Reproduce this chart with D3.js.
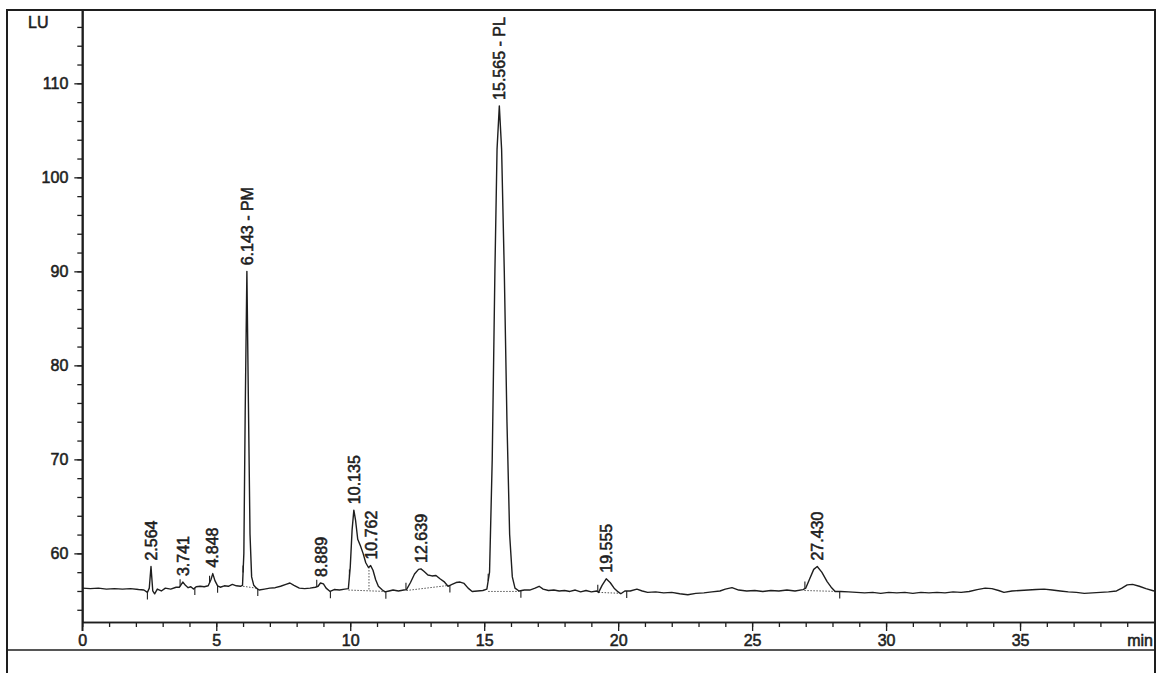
<!DOCTYPE html>
<html><head><meta charset="utf-8">
<script src="https://cdn.jsdelivr.net/npm/d3@7"></script>
<style>
body{margin:0;background:#fff}
svg{display:block}
text{font-family:"Liberation Sans",Arial,sans-serif;fill:#1e1e1e;stroke:#1e1e1e;stroke-width:0.55px}
</style>
</head><body>
<svg id="c" width="1163" height="673"></svg>
<script>
// ---- data ----
const traceTime = [0.0,0.3,0.6,0.9,1.2,1.5,1.8,2.1,2.3,2.43,2.5,2.564,2.63,2.7,2.8,2.95,3.1,3.3,3.5,3.62,3.66,3.75,3.85,3.95,4.05,4.15,4.25,4.4,4.55,4.7,4.8,4.87,4.95,5.05,5.15,5.3,5.45,5.6,5.75,5.9,5.98,6.03,6.08,6.143,6.2,6.26,6.32,6.4,6.5,6.6,6.8,7.0,7.2,7.4,7.6,7.75,7.9,8.1,8.3,8.5,8.7,8.8,8.889,9.0,9.1,9.25,9.4,9.6,9.8,9.93,10.0,10.07,10.135,10.2,10.28,10.38,10.48,10.58,10.68,10.762,10.85,10.95,11.05,11.2,11.3,11.45,11.6,11.8,12.0,12.1,12.25,12.4,12.55,12.639,12.75,12.9,13.05,13.2,13.35,13.5,13.65,13.8,13.95,14.1,14.25,14.4,14.55,14.75,14.95,15.1,15.2,15.3,15.4,15.48,15.565,15.65,15.75,15.85,15.95,16.05,16.15,16.3,16.5,16.7,16.9,17.05,17.2,17.4,17.6,17.8,18.0,18.2,18.4,18.6,18.8,19.0,19.2,19.27,19.4,19.555,19.7,19.85,20.0,20.1,20.25,20.45,20.7,20.9,21.1,21.4,21.7,22.0,22.3,22.6,22.9,23.2,23.5,23.8,24.0,24.25,24.5,24.8,25.1,25.4,25.7,26.0,26.3,26.6,26.9,27.0,27.15,27.3,27.43,27.6,27.8,27.95,28.1,28.3,28.6,28.9,29.2,29.5,29.8,30.1,30.4,30.7,31.0,31.3,31.6,31.9,32.2,32.5,32.8,33.1,33.4,33.7,33.95,34.2,34.4,34.7,35.0,35.3,35.6,35.9,36.2,36.5,36.8,37.1,37.4,37.7,38.0,38.3,38.6,38.8,39.0,39.2,39.45,39.7,40.0];
const traceLU = [56.3,56.25,56.3,56.2,56.25,56.2,56.25,56.15,56.1,55.85,56.3,58.6,56.0,55.7,56.2,56.0,56.3,56.2,56.4,56.4,56.55,56.95,56.6,56.35,56.45,56.2,56.45,56.5,56.45,56.55,57.2,57.85,57.1,56.55,56.4,56.55,56.5,56.7,56.55,56.5,56.6,60,75,90.0,76,62,57.5,56.6,56.3,56.1,56.2,56.3,56.35,56.5,56.7,56.85,56.6,56.3,56.25,56.3,56.4,56.5,56.85,56.75,56.3,55.95,56.15,56.1,56.2,56.25,58.5,62.5,64.6,63.5,61.5,60.8,60.0,59.0,58.5,58.7,58.2,57.2,56.5,56.1,55.9,56.0,56.1,56.0,56.1,56.15,56.9,57.8,58.3,58.35,58.1,57.7,57.6,57.65,57.3,57.0,56.5,56.7,56.9,56.95,56.8,56.3,55.95,56.0,56.05,56.2,58,70,90,103,107.6,103,90,74,62,57.5,56.3,56.0,56.1,56.1,56.3,56.5,56.2,56.05,56.1,56.0,56.05,55.95,56.1,55.9,56.05,55.9,56.0,55.85,56.6,57.3,56.9,56.3,55.9,55.7,56.0,56.0,56.2,56.0,55.85,55.9,55.8,55.85,55.7,55.6,55.75,55.8,55.9,56.0,56.2,56.35,56.1,56.0,56.05,55.95,56.05,56.0,56.1,56.0,56.15,56.3,57.3,58.3,58.6,58.0,57.0,56.4,55.95,55.95,55.9,55.85,55.8,55.85,55.75,55.85,55.8,55.85,55.75,55.85,55.8,55.85,55.8,55.9,55.85,55.95,56.15,56.3,56.25,56.05,55.85,56.0,56.05,56.1,56.15,56.2,56.1,56.0,55.9,55.85,55.75,55.8,55.85,55.9,56.0,56.3,56.65,56.7,56.5,56.25,56.0];

const peakTimes   = [2.564,3.741,4.848,6.143,8.889,10.135,10.762,12.639,15.565,19.555,27.430];
const peakHeights = [58.6,56.95,57.85,90.0,56.85,64.6,58.7,58.35,107.6,57.3,58.6];
const peakLabels  = ["2.564","3.741","4.848","6.143 - PM","8.889","10.135","10.762","12.639","15.565 - PL","19.555","27.430"];

// integration baselines: start time, start LU, end time, end LU
const baseStartT = [6.0,9.93,12.1,15.15,19.27,26.95];
const baseStartV = [56.5,56.1,56.05,55.95,55.85,56.05];
const baseEndT   = [6.5,11.3,13.7,16.3,20.1,28.2];
const baseEndV   = [56.3,55.95,56.6,55.95,55.75,55.95];
const dropLineT  = [10.7];

const startMarks = [3.65,4.75,6.0,8.75,9.97,12.08,15.15,19.24,26.97];
const endMarks   = [2.43,4.2,5.05,6.55,9.26,11.33,13.72,16.37,20.32,28.27];

const xMajor = [0,5,10,15,20,25,30,35];
const yMajor = [60,70,80,90,100,110];

// ---- drawing ----
const svg = d3.select("#c");
const x = d3.scaleLinear().domain([0,40]).range([82.3,1154]);
const y = d3.scaleLinear().domain([52.7,117.8]).range([622,10]);
const ink = "#1e1e1e";

// frame
svg.append("path").attr("d","M7,673V10H1155V673").attr("fill","none").attr("stroke",ink).attr("stroke-width",2);
svg.append("line").attr("x1",7).attr("x2",1155).attr("y1",650).attr("y2",650).attr("stroke",ink).attr("stroke-width",1.6);

// y axis
const gy = svg.append("g").attr("transform","translate(82.3,0)");
gy.call(d3.axisLeft(y).tickValues(d3.range(54,118,2)).tickSize(5).tickFormat("").tickSizeOuter(0));
const gy2 = svg.append("g").attr("transform","translate(82.3,0)");
gy2.call(d3.axisLeft(y).tickValues(yMajor).tickSize(8).tickPadding(6).tickSizeOuter(0));
[gy,gy2].forEach(g=>{g.selectAll("line").attr("stroke",ink).attr("stroke-width",1.3);g.select(".domain").attr("stroke",ink).attr("stroke-width",1.6);});
gy2.selectAll("text").attr("font-size",16).attr("font-family","Liberation Sans, Arial, sans-serif").attr("fill",ink);
svg.append("line").attr("x1",82.3).attr("x2",82.3).attr("y1",10).attr("y2",631).attr("stroke",ink).attr("stroke-width",1.6);

// x axis
const gx = svg.append("g").attr("transform","translate(0,622)");
gx.call(d3.axisBottom(x).tickValues(d3.range(0,40,1)).tickSize(5).tickFormat("").tickSizeOuter(0));
const gx2 = svg.append("g").attr("transform","translate(0,622)");
gx2.call(d3.axisBottom(x).tickValues(xMajor).tickSize(9).tickPadding(4).tickSizeOuter(0));
[gx,gx2].forEach(g=>{g.selectAll("line").attr("stroke",ink).attr("stroke-width",1.3);g.select(".domain").attr("stroke",ink).attr("stroke-width",1.6);});
gx2.selectAll("text").attr("font-size",16).attr("font-family","Liberation Sans, Arial, sans-serif").attr("fill",ink);

svg.append("text").attr("x",1153).attr("y",646).attr("text-anchor","end").attr("font-size",16).text("min");
svg.append("text").attr("x",28).attr("y",28).attr("font-size",16).text("LU");

// interpolation helper from the trace data
const bis = d3.bisector(d=>d).left;
function valueAt(t){
  const i = Math.max(1, Math.min(traceTime.length-1, bis(traceTime,t)));
  const t0=traceTime[i-1], t1=traceTime[i];
  return traceLU[i-1] + (traceLU[i]-traceLU[i-1])*(t-t0)/(t1-t0);
}

// baselines (dotted)
baseStartT.forEach((t,i)=>{
  svg.append("line").attr("x1",x(t)).attr("y1",y(baseStartV[i])).attr("x2",x(baseEndT[i])).attr("y2",y(baseEndV[i]))
    .attr("stroke","#555").attr("stroke-width",1).attr("stroke-dasharray","1.5,1.5");
});
dropLineT.forEach(t=>{
  svg.append("line").attr("x1",x(t)).attr("x2",x(t)).attr("y1",y(valueAt(t))).attr("y2",y(56.0))
    .attr("stroke","#555").attr("stroke-width",1).attr("stroke-dasharray","1.5,1.5");
});

// trace
const pts = traceTime.map((t,i)=>[t,traceLU[i]]);
svg.append("path").datum(pts)
  .attr("d", d3.line().x(d=>x(d[0])).y(d=>y(d[1])))
  .attr("fill","none").attr("stroke",ink).attr("stroke-width",1.4).attr("stroke-linejoin","round");

// peak start / end marks
startMarks.forEach(t=>{
  const yy=y(valueAt(t));
  svg.append("line").attr("x1",x(t)).attr("x2",x(t)).attr("y1",yy).attr("y2",yy-7).attr("stroke",ink).attr("stroke-width",1.1);
});
endMarks.forEach(t=>{
  const yy=y(valueAt(t));
  svg.append("line").attr("x1",x(t)).attr("x2",x(t)).attr("y1",yy).attr("y2",yy+7).attr("stroke",ink).attr("stroke-width",1.1);
});

// peak labels
peakTimes.forEach((t,i)=>{
  svg.append("text")
    .attr("transform",`translate(${x(t)},${y(peakHeights[i])-6}) rotate(-90)`)
    .attr("dy","0.38em").attr("text-anchor","start").attr("font-size",16)
    .text(peakLabels[i]);
});
</script>
</body></html>
